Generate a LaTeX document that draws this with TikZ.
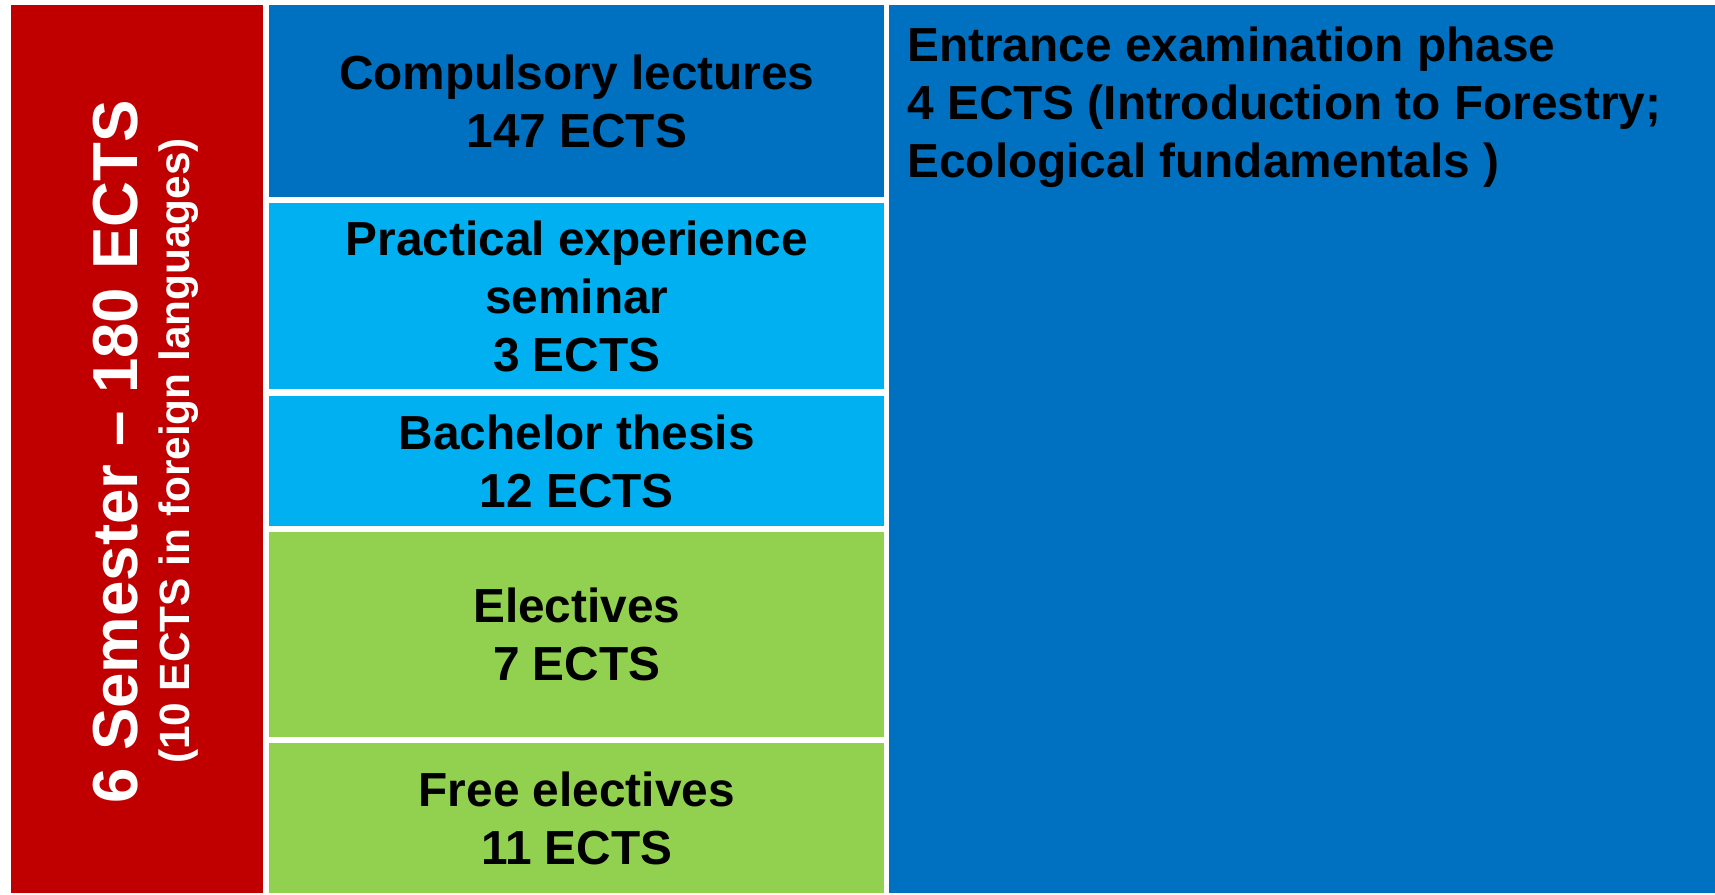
\documentclass[tikz,border=0pt]{standalone}
\usepackage{fontspec}
\setmainfont{Liberation Sans}
\definecolor{semred}{HTML}{C00000}
\definecolor{lectblue}{HTML}{0070C0}
\definecolor{thesisblue}{HTML}{00B0F0}
\definecolor{electgreen}{HTML}{92D050}
\tikzset{
  modbox/.style={anchor=north west, inner sep=0pt, align=center,
    font=\bfseries\fontsize{27.2}{33}\selectfont},
}
\begin{document}
\begin{tikzpicture}[x=0.02cm,y=-0.02cm]
% \clip (0,0) rectangle (1715,894);
\useasboundingbox [fill=white] (0,0) rectangle (1715,894);

% Drawing red semester bar
\node (sem) [modbox, fill=semred, minimum width=5.04cm, minimum height=17.76cm] at (11,5) {};
\node (semtitle) [rotate=90, text=white, font=\bfseries\fontsize{36.2}{40}\selectfont] at (116,452) {6 Semester – 180 ECTS};
\node (semnote) [rotate=90, text=white, font=\bfseries\fontsize{24.1}{28}\selectfont] at (179,451) {(10 ECTS in foreign languages)};

% Drawing module boxes
\node (lect) [modbox, fill=lectblue, minimum width=12.3cm, minimum height=3.84cm] at (269,5) {Compulsory lectures\\147 ECTS};
\node (prac) [modbox, fill=thesisblue, minimum width=12.3cm, minimum height=3.72cm] at (269,203) {Practical experience\\seminar\\3 ECTS};
\node (thesis) [modbox, fill=thesisblue, minimum width=12.3cm, minimum height=2.6cm] at (269,396) {Bachelor thesis\\12 ECTS};
\node (elect) [modbox, fill=electgreen, minimum width=12.3cm, minimum height=4.1cm] at (269,532) {Electives\\7 ECTS};
\node (free) [modbox, fill=electgreen, minimum width=12.3cm, minimum height=3.0cm] at (269,743) {Free electives\\11 ECTS};

% Drawing entrance phase block
\node (phase) [modbox, fill=lectblue, minimum width=16.52cm, minimum height=17.76cm] at (889,5) {};
\node (phasetext) [modbox, align=left] at (907,27) {Entrance examination phase\\4 ECTS (Introduction to Forestry;\\Ecological fundamentals )};
\end{tikzpicture}
\end{document}
